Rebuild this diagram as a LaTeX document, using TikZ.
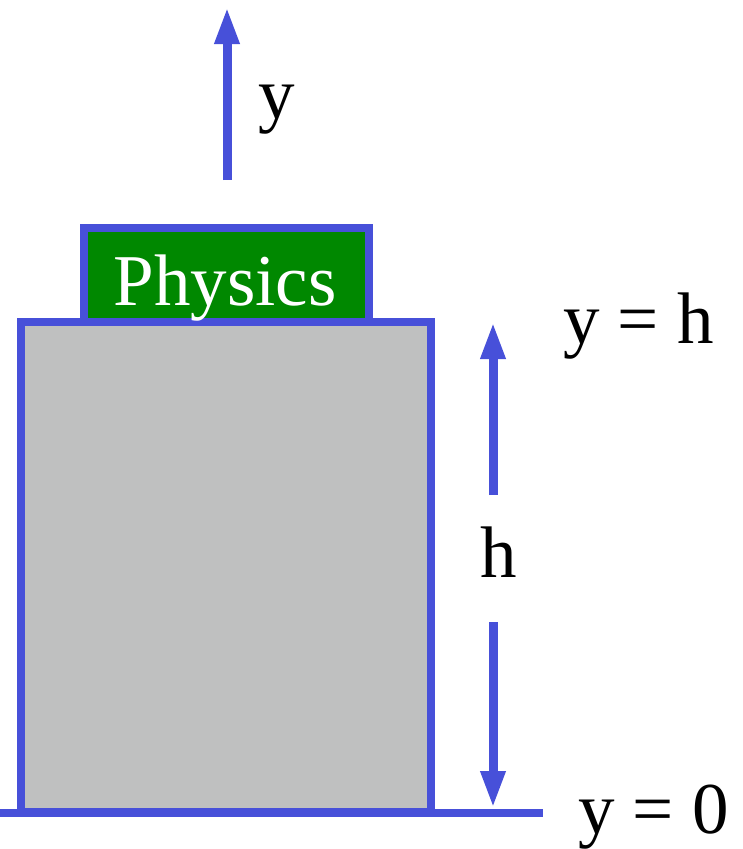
\documentclass[tikz,border=0pt]{standalone}
\usepackage{fontspec}
\setmainfont{Liberation Serif}
\usetikzlibrary{arrows.meta}
\definecolor{lineblue}{RGB}{71,80,217}
\definecolor{bookgreen}{RGB}{0,136,0}
\definecolor{blockgray}{RGB}{191,192,192}
\begin{document}
\begin{tikzpicture}[x=1pt,y=-1pt,
  outline/.style={draw=lineblue,line width=8pt,inner sep=0pt},
  arr/.style={draw=lineblue,line width=9pt,-{Triangle[width=23pt,length=37pt]}},
  lbl/.style={inner sep=0pt,anchor=base west,font=\fontsize{73}{80}\selectfont}]
\useasboundingbox (0,0) rectangle (743,849);
\node[outline,fill=blockgray,minimum width=410pt,minimum height=490pt] (block) at (226,567) {};
\node[outline,fill=bookgreen,minimum width=285pt,minimum height=94pt] (book) at (226.5,275) {};
\node[inner sep=0pt,anchor=base,text=white,font=\fontsize{73}{80}\selectfont] (phys) at (225,305) {Physics};
\coordinate (groundL) at (0,813);
\coordinate (groundR) at (543,813);
\draw[lineblue,line width=8pt] (groundL) -- (groundR);
\coordinate (yaxS) at (227,180);
\coordinate (yaxE) at (227,7);
\draw[arr] (yaxS) -- (yaxE);
\coordinate (hupS) at (493,495);
\coordinate (hupE) at (493,322);
\draw[arr] (hupS) -- (hupE);
\coordinate (hdnS) at (493,622);
\coordinate (hdnE) at (493,808);
\draw[arr] (hdnS) -- (hdnE);
\node[lbl] (ylab) at (258,118) {y};
\node[lbl] (yh) at (563,343) {y = h};
\node[lbl] (hlab) at (480,577) {h};
\node[lbl] (y0) at (578,833) {y = 0};
\end{tikzpicture}
\end{document}
